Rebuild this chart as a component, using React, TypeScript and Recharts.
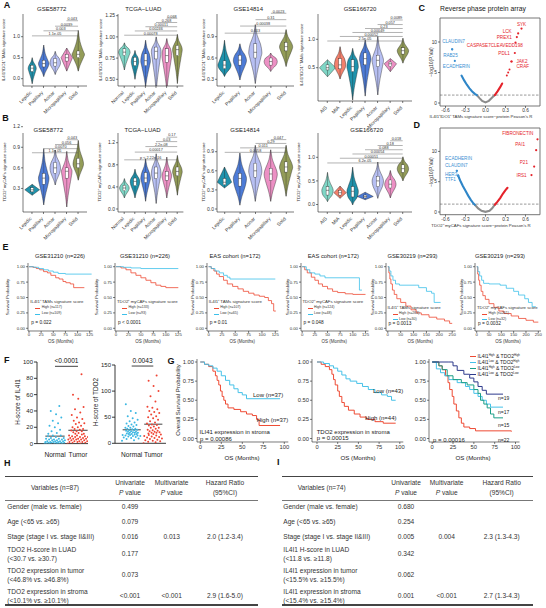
// @ts-nocheck
import React from 'react'
import { ComposedChart, Bar, Line, Scatter, XAxis, YAxis, ReferenceLine } from 'recharts'

const FONT = '"Liberation Sans", Arial, Helvetica, sans-serif'
const M0 = { top: 0, right: 0, bottom: 0, left: 0 }
const AX = { stroke: '#222', strokeWidth: 0.6 }

// ---------- violin panels (A, B) ----------
const a1Cats = ['Lepidic', 'Papillary', 'Acinar', 'Micropapillary', 'Solid']
const a1Stats = [[-0.12, 0.17, 0.25, 0.32, 0.5], [0.05, 0.28, 0.36, 0.44, 0.8], [0.1, 0.3, 0.38, 0.48, 0.65], [0.18, 0.42, 0.5, 0.58, 0.73], [0.18, 0.5, 0.58, 0.66, 1.15]]
const a1P = ['1.1e-05', '0.003', '0.0039', '0.043']
const a1PY = [1.02, 1.14, 1.25, 1.38]

const a2Cats = ['Normal', 'Lepidic', 'Papillary', 'Acinar', 'Micropapillary', 'Solid']
const a2Stats = [[0.61, 0.78, 0.82, 0.86, 0.93], [0.5, 0.66, 0.71, 0.76, 0.84], [0.41, 0.66, 0.72, 0.8, 0.96], [0.35, 0.74, 0.83, 0.88, 1.0], [0.36, 0.7, 0.78, 0.86, 0.98], [0.45, 0.78, 0.85, 0.9, 1.03]]
const a2P = ['0.00078', '0.00246', '0.00011', '0.268', '0.068']
const a2PY = [1.02, 1.07, 1.12, 1.17, 1.22]

const a3Cats = ['Lepidic', 'Papillary', 'Acinar', 'Micropapillary', 'Solid']
const a3Stats = [[0.34, 0.45, 0.5, 0.56, 0.85], [0.29, 0.5, 0.57, 0.64, 0.8], [0.24, 0.6, 0.68, 0.8, 1.07], [0.41, 0.5, 0.55, 0.6, 0.67], [0.48, 0.7, 0.76, 0.82, 1.0]]
const a3P = ['0.013', '0.00038', '0.31', '0.0023']
const a3PY = [0.95, 1.05, 1.14, 1.23]

const a4Cats = ['AIS', 'MIA', 'Lepidic', 'Papillary', 'Acinar', 'Micropapillary', 'Solid']
const a4Stats = [[0.34, 0.46, 0.5, 0.55, 0.64], [0.3, 0.48, 0.55, 0.66, 0.87], [-0.07, 0.43, 0.52, 0.64, 0.84], [0.0, 0.55, 0.66, 0.76, 0.99], [0.02, 0.52, 0.63, 0.72, 1.05], [0.43, 0.52, 0.57, 0.6, 0.66], [0.58, 0.74, 0.8, 0.85, 1.02]]
const a4P = ['2.5e-05', '0.00052', '0.00049', '0.23', '0.057', '0.0089']
const a4PY = [0.97, 1.05, 1.12, 1.19, 1.26, 1.34]

const b1Stats = [[0.2, 0.25, 0.28, 0.31, 0.36], [0.06, 0.36, 0.45, 0.52, 0.88], [0.35, 0.52, 0.6, 0.68, 0.86], [0.03, 0.45, 0.55, 0.6, 0.84], [0.42, 0.6, 0.66, 0.74, 1.0]]
const b1P = ['1.1e-05', '0.0070', '0.056', '0.043']
const b1PY = [0.82, 0.88, 0.94, 1.01]

const b2Stats = [[0.2, 0.33, 0.38, 0.43, 0.55], [0.2, 0.42, 0.5, 0.56, 0.72], [0.14, 0.48, 0.56, 0.66, 0.91], [0.1, 0.55, 0.65, 0.76, 1.0], [0.2, 0.52, 0.6, 0.68, 0.94], [0.25, 0.6, 0.68, 0.76, 0.97]]
const b2P = ['p < 2.22e-16', '0.00017', '2.2e-08', '0.03', '0.17']
const b2PY = [0.89, 1.03, 1.13, 1.22, 1.3]

const b3Stats = [[0.33, 0.38, 0.42, 0.48, 0.66], [0.06, 0.36, 0.48, 0.56, 0.88], [0.12, 0.5, 0.6, 0.72, 1.0], [0.12, 0.45, 0.55, 0.64, 0.93], [0.2, 0.58, 0.66, 0.74, 1.0]]
const b3P = ['0.0058', '0.011', '0.29', '0.047']
const b3PY = [0.89, 0.96, 1.03, 1.09]

const b4Stats = [[0.06, 0.2, 0.3, 0.38, 0.68], [0.13, 0.2, 0.25, 0.3, 0.39], [-0.01, 0.16, 0.28, 0.38, 0.79], [0.1, 0.14, 0.17, 0.2, 0.26], [0.13, 0.38, 0.5, 0.6, 0.9], [0.14, 0.35, 0.43, 0.52, 0.72], [0.5, 0.68, 0.76, 0.84, 1.01]]
const b4P = ['6.2e-05', '0.00051', '0.00054', '0.088', '0.18', '0.018']
const b4PY = [0.88, 0.98, 1.07, 1.16, 1.25, 1.35]

const CAT_COL = { Normal: '#7fd6c6', AIS: '#7fd6c6', MIA: '#f2806c', Lepidic: '#1f92ac', Papillary: '#4d7bd6', Acinar: '#b7bff2', Micropapillary: '#ec90c4', Solid: '#939c58' }
const KW = { v: 0.44, n: 0.34, W: 0.52, d: 0.48, w: 0.62 }

// ---------- volcano (C, D) ----------
const cBlueLine = [[-0.36, 4.5], [-0.32, 3.7], [-0.28, 3.0], [-0.24, 2.4], [-0.2, 1.9], [-0.16, 1.5], [-0.13, 1.3]]
const cGreyLine = [[-0.13, 1.3], [-0.09, 0.8], [-0.05, 0.35], [0, 0.1], [0.05, 0.35], [0.1, 0.9], [0.14, 1.3]]
const cRedLine = [[0.14, 1.3], [0.18, 1.9], [0.22, 2.6], [0.25, 3.2]]
const cRedDots = [[0.36, 5.5], [0.34, 5.0], [0.32, 4.5]]
const cNames = ['CLAUDIN7', 'RAB25', 'ECADHERIN', 'SYK', 'LCK', 'PREX1', 'CASPASE7CLEAVEDD198', 'PDL1', 'JAK2', 'CRAF']
const cX = [-0.5, -0.5, -0.46, 0.54, 0.49, 0.47, 0.45, 0.44, 0.39, 0.39]
const cY = [8.8, 8.8, 6.9, 12.2, 11.4, 10.8, 9.9, 8.2, 6.8, 6.8]
const cLab = [[-10, -7.6, 'start'], [-9, 5.7, 'start'], [-12, 5, 'start'], [0, -4.5, 'middle'], [-6.5, -1.6, 'end'], [-5, 0, 'end'], [7.3, 3, 'end'], [-5, 0, 'end'], [5, -0.3, 'start'], [5, 5, 'start']]

const dBlueLine = [[-0.41, 6.0], [-0.38, 5.2], [-0.34, 4.3], [-0.3, 3.5], [-0.26, 2.7], [-0.22, 2.0], [-0.18, 1.4], [-0.16, 1.2]]
const dGreyLine = [[-0.16, 1.2], [-0.11, 0.6], [-0.06, 0.2], [0, 0.02], [0.06, 0.2], [0.1, 0.6], [0.14, 1.2]]
const dRedLine = [[0.14, 1.2], [0.18, 1.7], [0.22, 2.3], [0.26, 3.0], [0.3, 3.6], [0.33, 4.0]]
const dNames = ['ECADHERIN', 'CLAUDIN7', 'HER3', 'TTF1', 'FIBRONECTIN', 'PAI1', 'P21', 'IRS1']
const dX = [-0.43, -0.43, -0.41, -0.41, 0.78, 0.76, 0.73, 0.69]
const dY = [6.8, 6.8, 6.0, 6.0, 12.0, 10.2, 7.5, 6.1]
const dLab = [[-11.8, -12.4, 'start'], [-11.8, -5, 'start'], [-13.2, -0.9, 'start'], [-13.2, 4.1, 'start'], [-4.2, -6.3, 'end'], [-11.2, -5.5, 'end'], [-6.2, -4.5, 'end'], [-4.8, 0.7, 'end']]

// ---------- Kaplan-Meier (E) ----------
const e1High = [[0, 1], [8, 0.99], [15, 0.97], [22, 0.95], [30, 0.92], [38, 0.9], [45, 0.86], [55, 0.82], [62, 0.8], [70, 0.76], [76, 0.74], [85, 0.72], [92, 0.66], [114, 0.66]]
const e1Low = [[0, 1], [10, 0.99], [20, 0.97], [30, 0.95], [40, 0.93], [50, 0.91], [60, 0.89], [75, 0.88], [129, 0.88]]
const e2High = [[0, 1], [10, 0.98], [20, 0.95], [30, 0.9], [40, 0.86], [50, 0.82], [60, 0.78], [70, 0.74], [80, 0.7], [90, 0.68], [100, 0.66], [125, 0.66]]
const e2Low = [[0, 1], [15, 0.99], [30, 0.98], [50, 0.97], [125, 0.97]]
const e3High = [[0, 1], [5, 0.97], [10, 0.93], [15, 0.88], [20, 0.84], [28, 0.78], [35, 0.72], [45, 0.68], [55, 0.64], [65, 0.6], [75, 0.57], [85, 0.54], [95, 0.52], [105, 0.5], [112, 0.45], [118, 0.4], [122, 0.28], [126, 0.28]]
const e3Low = [[0, 1], [5, 0.97], [12, 0.93], [20, 0.9], [28, 0.86], [35, 0.83], [40, 0.8], [125, 0.8]]
const e4High = [[0, 1], [5, 0.95], [10, 0.9], [18, 0.83], [25, 0.78], [32, 0.72], [40, 0.68], [50, 0.64], [60, 0.6], [70, 0.58], [85, 0.56], [100, 0.55], [125, 0.55]]
const e4Low = [[0, 1], [8, 0.95], [15, 0.9], [25, 0.88], [35, 0.85], [45, 0.82], [110, 0.82], [113, 0.62], [118, 0.62]]
const e5High = [[0, 1], [4, 0.9], [8, 0.8], [12, 0.72], [18, 0.62], [25, 0.55], [35, 0.48], [50, 0.42], [70, 0.36], [90, 0.3], [110, 0.25], [130, 0.22], [160, 0.18], [190, 0.15], [220, 0.12], [240, 0.08], [250, 0.08]]
const e5Low = [[0, 1], [5, 0.93], [12, 0.85], [20, 0.78], [30, 0.72], [45, 0.7], [110, 0.7], [120, 0.66], [150, 0.6], [170, 0.57], [180, 0.42], [205, 0.42]]
const e6High = [[0, 1], [4, 0.88], [8, 0.78], [12, 0.7], [18, 0.6], [25, 0.53], [35, 0.47], [50, 0.4], [70, 0.34], [90, 0.28], [110, 0.24], [140, 0.2], [170, 0.16], [200, 0.13], [230, 0.1], [250, 0.1]]
const e6Low = [[0, 1], [5, 0.92], [12, 0.85], [20, 0.78], [28, 0.73], [50, 0.72], [95, 0.7], [120, 0.65], [150, 0.6], [170, 0.54], [195, 0.48], [210, 0.42], [225, 0.35], [240, 0.35]]
const eTitles = ['GSE31210 (n=226)', 'GSE31210 (n=226)', 'EAS cohort (n=172)', 'EAS cohort (n=172)', 'GSE30219 (n=293)', 'GSE30219 (n=293)']
const eHighN = ['High (n=117)', 'High (n=133)', 'High (n=107)', 'High (n=124)', 'High (n=263)', 'High (n=261)']
const eLowN = ['Low (n=109)', 'Low (n=93)', 'Low (n=65)', 'Low (n=48)', 'Low (n=30)', 'Low (n=32)']
const eP = ['p = 0.022', 'p < 0.0001', 'p = 0.01', 'p = 0.048', 'p = 0.0013', 'p = 0.0032']
const T125 = [0, 25, 50, 75, 100, 125]
const T250 = [0, 50, 100, 150, 200, 250]

// ---------- H-score dots (F) ----------
const fIl4Normal = [0, 0, 0, 0, 0, 0, 0, 1, 1, 1, 1, 1, 2, 2, 2, 2, 3, 3, 3, 3, 4, 4, 4, 5, 5, 5, 6, 6, 7, 7, 8, 9, 10, 10, 12, 13, 15, 17, 20, 22, 25, 28, 32, 36, 40, 46]
const fIl4Tumor = [0, 0, 1, 1, 2, 2, 2, 3, 3, 3, 4, 4, 5, 5, 5, 6, 6, 6, 7, 7, 8, 8, 8, 9, 9, 10, 10, 11, 12, 12, 13, 14, 15, 15, 16, 17, 18, 18, 20, 20, 22, 24, 25, 26, 28, 30, 32, 35, 38, 42, 45, 55, 60, 85]
const fTdoNormal = [5, 6, 8, 9, 10, 11, 12, 13, 14, 14, 15, 15, 16, 16, 17, 18, 18, 18, 19, 20, 20, 20, 21, 22, 22, 23, 24, 25, 25, 26, 27, 28, 28, 30, 30, 32, 33, 35, 36, 38, 40, 42, 45, 48, 52, 58, 62, 75]
const fTdoTumor = [0, 2, 3, 4, 5, 6, 7, 8, 9, 10, 11, 12, 13, 14, 15, 16, 17, 18, 19, 20, 20, 21, 22, 23, 24, 25, 26, 28, 30, 30, 32, 34, 35, 36, 38, 40, 42, 45, 48, 50, 52, 55, 58, 60, 62, 65, 68, 70, 80, 90, 100, 110, 120, 130]

// ---------- Kaplan-Meier (G) ----------
const g1High = [[0, 1], [5, 0.97], [10, 0.94], [15, 0.88], [18, 0.82], [20, 0.76], [22, 0.7], [24, 0.62], [26, 0.55], [28, 0.5], [30, 0.45], [33, 0.4], [40, 0.38], [48, 0.35], [55, 0.32], [62, 0.3], [67, 0.25], [70, 0.17], [95, 0.17]]
const g1Low = [[0, 1], [5, 0.97], [10, 0.95], [15, 0.92], [20, 0.88], [25, 0.82], [30, 0.76], [35, 0.7], [40, 0.65], [45, 0.6], [50, 0.57], [55, 0.52], [95, 0.52]]
const g2High = [[0, 1], [5, 0.97], [10, 0.94], [15, 0.9], [18, 0.84], [20, 0.77], [22, 0.7], [25, 0.62], [27, 0.55], [30, 0.47], [33, 0.42], [38, 0.37], [45, 0.32], [52, 0.28], [60, 0.25], [70, 0.22], [80, 0.2], [95, 0.2]]
const g2Low = [[0, 1], [8, 0.98], [15, 0.95], [20, 0.92], [25, 0.88], [30, 0.83], [35, 0.78], [40, 0.75], [48, 0.72], [55, 0.68], [62, 0.64], [70, 0.6], [78, 0.57], [85, 0.55], [90, 0.5], [95, 0.5]]
const g3HH = [[0, 1], [8, 0.95], [12, 0.9], [16, 0.82], [19, 0.73], [21, 0.64], [24, 0.55], [26, 0.45], [29, 0.36], [32, 0.27], [35, 0.2], [38, 0.15], [45, 0.13], [52, 0.1], [95, 0.09]]
const g3LH = [[0, 1], [5, 0.91], [10, 0.86], [15, 0.82], [20, 0.77], [30, 0.73], [40, 0.68], [45, 0.64], [50, 0.59], [55, 0.55], [60, 0.5], [65, 0.45], [70, 0.41], [85, 0.41]]
const g3HL = [[0, 1], [8, 0.95], [12, 0.9], [18, 0.82], [25, 0.77], [35, 0.73], [42, 0.7], [50, 0.64], [55, 0.59], [58, 0.5], [62, 0.45], [66, 0.4], [70, 0.32], [74, 0.27], [85, 0.27]]
const g3LL = [[0, 1], [20, 1], [25, 0.95], [30, 0.89], [38, 0.84], [45, 0.79], [50, 0.74], [55, 0.68], [60, 0.63], [65, 0.58], [85, 0.58]]
const G4 = [0, 25, 50, 75, 100]

// ---------- tables (H, I) ----------
const hVars = [['Gender (male vs. female)'], ['Age (<65 vs. ≥65)'], ['Stage (stage I vs. stage II&III)'], ['TDO2 H-score in LUAD', '(<30.7 vs. ≥30.7)'], ['TDO2 expression in tumor', '(<46.8% vs. ≥46.8%)'], ['TDO2 expression in stroma', '(<10.1% vs. ≥10.1%)']]
const hUni = ['0.499', '0.079', '0.016', '0.177', '0.073', '<0.001']
const hMulti = ['', '', '0.013', '', '', '<0.001']
const hHR = ['', '', '2.0 (1.2-3.4)', '', '', '2.9 (1.6-5.0)']
const iVars = [['Gender (male vs. female)'], ['Age (<65 vs. ≥65)'], ['Stage (stage I vs. stage II&III)'], ['IL4I1   H-score in LUAD', '(<11.8 vs. ≥11.8)'], ['IL4I1 expression  in tumor', '(<15.5% vs. ≥15.5%)'], ['IL4I1  expression in stroma', '(<15.4% vs. ≥15.4%)']]
const iUni = ['0.680', '0.254', '0.005', '0.342', '0.062', '0.001']
const iMulti = ['', '', '0.004', '', '', '<0.001']
const iHR = ['', '', '2.3 (1.3-4.3)', '', '', '2.7 (1.3-4.3)']

const RED = '#ee4a33'
const CYAN = '#3cc0ea'
const TAM = 'IL4I1⁺IDO1⁺ TAMs signature score'
const CAF = 'TDO2⁺ myCAFs signature score'

function lin(c, p) {
  const [[v1, p1], [v2, p2]] = c
  return v1 + ((p - p1) * (v2 - v1)) / (p2 - p1)
}

function T({ x, y, s = 6, a = 'middle', r = 0, c = '#222', w = 400, children }) {
  const tx = a === 'middle' ? '-50%' : a === 'end' ? '-100%' : '0%'
  return (
    <div style={{ position: 'absolute', left: x, top: y, transform: `translate(${tx},-50%) rotate(${r}deg)`, fontSize: s, color: c, fontWeight: w, whiteSpace: 'nowrap', lineHeight: 1 }}>
      {children}
    </div>
  )
}

function Seg({ x1, x2, y, c, h = 0.8 }) {
  return <div style={{ position: 'absolute', left: x1, top: y - h / 2, width: x2 - x1, height: h, background: c }} />
}

function cr(p, move) {
  let d = move ? `M${p[0][0]},${p[0][1]}` : `L${p[0][0]},${p[0][1]}`
  for (let i = 0; i < p.length - 1; i++) {
    const a = p[i - 1] || p[i], b = p[i], c = p[i + 1], e = p[i + 2] || c
    d += `C${b[0] + (c[0] - a[0]) / 6},${b[1] + (c[1] - a[1]) / 6} ${c[0] - (e[0] - b[0]) / 6},${c[1] - (e[1] - b[1]) / 6} ${c[0]},${c[1]}`
  }
  return d
}

function ViolinShape(props) {
  const { x, y, width, height, row } = props
  if (!row || !isFinite(y)) return null
  const [mn, q1, md, q3, mx] = row.s
  const top = Math.min(y, y + height), h = Math.abs(height)
  const py = (v) => top + (h * (mx - v)) / (mx - mn)
  const cx = x + width / 2
  const hw = width * KW[row.k]
  let d
  if (row.k === 'd' || row.k === 'w') {
    d = `M${cx},${py(mx)} L${cx + hw},${py(md)} L${cx},${py(mn)} L${cx - hw},${py(md)} Z`
  } else {
    const prof = [[mx, 0], [q3 + (mx - q3) * 0.45, 0.28], [q3, 0.78], [md, 1], [q1, 0.82], [mn + (q1 - mn) * 0.45, 0.3], [mn, 0]]
    const R = prof.map(([v, f]) => [cx + f * hw, py(v)])
    const L = prof.slice().reverse().map(([v, f]) => [cx - f * hw, py(v)])
    d = cr(R, true) + cr(L, false) + 'Z'
  }
  const bw = Math.min(1.4, hw * 0.35)
  return (
    <g>
      <path d={d} fill={row.col} stroke="#222" strokeWidth={0.4} />
      <line x1={cx} x2={cx} y1={py(mx)} y2={py(mn)} stroke="#222" strokeWidth={0.35} />
      <rect x={cx - bw} y={py(q3)} width={bw * 2} height={Math.max(0.5, py(q1) - py(q3))} fill="#fff" stroke="#222" strokeWidth={0.35} />
      <line x1={cx - bw} x2={cx + bw} y1={py(md)} y2={py(md)} stroke="#222" strokeWidth={0.5} />
    </g>
  )
}

const CatTick = (p) => (
  <text x={p.x} y={p.y + 3} transform={`rotate(-45 ${p.x} ${p.y + 3})`} textAnchor="end" fontSize={4.8} fill="#333">
    {p.payload.value}
  </text>
)

function ViolinPanel({ p }) {
  const { x0, x1, pad, y0, y1, cal, cats, stats, kinds, ticks, dec, pv, py } = p
  const wy = 18, hx = 34
  const dom = [lin(cal, y1), lin(cal, y0)]
  const rows = cats.map((c, i) => ({ cat: c, r: [stats[i][0], stats[i][4]], s: stats[i], k: kinds[i], col: CAT_COL[c] }))
  const last = cats[cats.length - 1]
  return (
    <div style={{ position: 'absolute', left: x0 - wy, top: y0 }}>
      <ComposedChart width={x1 - x0 + wy} height={y1 - y0 + hx} data={rows} margin={M0} barCategoryGap={0}>
        <XAxis dataKey="cat" height={hx} interval={0} padding={{ left: pad, right: pad }} tickSize={2} axisLine={AX} tickLine={AX} tick={CatTick} />
        <YAxis type="number" width={wy} domain={dom} allowDataOverflow ticks={ticks} interval={0} tickSize={2} tickMargin={1} axisLine={AX} tickLine={AX} tick={{ fontSize: 5, fill: '#333' }} tickFormatter={(v) => v.toFixed(dec)} />
        <Bar dataKey="r" isAnimationActive={false} shape={(sp) => <ViolinShape {...sp} row={rows[sp.index]} />} />
        {pv.map((t, i) => (
          <ReferenceLine key={i} segment={[{ x: cats[i], y: py[i] }, { x: last, y: py[i] }]} stroke="#555" strokeWidth={0.45} ifOverflow="visible" label={{ value: t, position: 'top', fontSize: 3.8, fill: '#333', offset: 0.7 }} />
        ))}
      </ComposedChart>
    </div>
  )
}

const violinPlots = [
  { x0: 22.7, x1: 86.7, pad: 3.2, y0: 14, y1: 86, cal: [[0, 78.7], [1, 36.7]], cats: a1Cats, stats: a1Stats, kinds: 'nvvdW', ticks: [0, 0.5, 1], dec: 1, pv: a1P, py: a1PY, title: 'GSE58772', tx: 51.7, ty: 9, ylab: TAM, lx: 4, ly: 50 },
  { x0: 118.3, x1: 183.7, pad: 0.9, y0: 14, y1: 86, cal: [[0.5, 79.3], [1.25, 15.7]], cats: a2Cats, stats: a2Stats, kinds: 'Wnvvvv', ticks: [0.5, 0.75, 1, 1.25], dec: 2, pv: a2P, py: a2PY, title: 'TCGA−LUAD', tx: 143.3, ty: 9, ylab: TAM, lx: 101, ly: 50 },
  { x0: 216.7, x1: 293.7, pad: 0, y0: 14, y1: 86, cal: [[0.3, 79.3], [0.9, 36.7]], cats: a3Cats, stats: a3Stats, kinds: 'vvvvv', ticks: [0.3, 0.6, 0.9], dec: 1, pv: a3P, py: a3PY, title: 'GSE14814', tx: 248.3, ty: 9, ylab: TAM, lx: 204, ly: 50 },
  { x0: 318, x1: 412, pad: 3, y0: 14, y1: 101, cal: [[0.5, 67.7], [1, 39.3]], cats: a4Cats, stats: a4Stats, kinds: 'wvvvvdv', ticks: [0.5, 1], dec: 1, pv: a4P, py: a4PY, title: 'GSE166720', tx: 360, ty: 9, ylab: TAM, lx: 302, ly: 55 },
  { x0: 22.7, x1: 86.7, pad: 3.2, y0: 133, y1: 212, cal: [[0, 209], [1.2, 126.7]], cats: a1Cats, stats: b1Stats, kinds: 'wvvvv', ticks: [0.3, 0.6, 0.9, 1.2], dec: 1, pv: b1P, py: b1PY, title: 'GSE58772', tx: 48.3, ty: 129.5, ylab: CAF, lx: 5, ly: 172 },
  { x0: 118.3, x1: 183.7, pad: 0.9, y0: 133, y1: 212, cal: [[0, 209], [1.2, 142.7]], cats: a2Cats, stats: b2Stats, kinds: 'vvvvvv', ticks: [0, 0.4, 0.8, 1.2], dec: 1, pv: b2P, py: b2PY, title: 'TCGA−LUAD', tx: 142.5, ty: 130, ylab: CAF, lx: 100, ly: 172 },
  { x0: 216.7, x1: 293.7, pad: 0, y0: 133, y1: 212, cal: [[0, 209], [0.9, 151.7]], cats: a3Cats, stats: b3Stats, kinds: 'dvvvv', ticks: [0, 0.3, 0.6, 0.9], dec: 1, pv: b3P, py: b3PY, title: 'GSE14814', tx: 245, ty: 130, ylab: CAF, lx: 204, ly: 172 },
  { x0: 318, x1: 412, pad: 3, y0: 133, y1: 212, cal: [[0, 204.5], [1, 157.3]], cats: a4Cats, stats: b4Stats, kinds: 'vdvwvvv', ticks: [0, 0.5, 1], dec: 1, pv: b4P, py: b4PY, title: 'GSE166720', tx: 366.7, ty: 130, ylab: CAF, lx: 299, ly: 172 },
]

const blank = () => <g />
const FRAME = { stroke: '#666', strokeWidth: 0.9, ifOverflow: 'visible' }

function Volcano({ y0, y1, cal, blue, grey, red, extra, names, xs, ys, lab }) {
  const x0 = 440, x1 = 540, wy = 12, hx = 10
  const xc = [[-0.6, 445.5], [0.6, 525.5]]
  const xd = [lin(xc, x0), lin(xc, x1)], yd = [lin(cal, y1), lin(cal, y0)]
  const pts = names.map((n, i) => ({ x: xs[i], y: ys[i], n, dx: lab[i][0], dy: lab[i][1], a: lab[i][2], c: xs[i] < 0 ? '#3b8fd2' : '#e5232b' }))
  const toXY = (arr) => arr.map(([x, y]) => ({ x, y }))
  const trail = (arr, col) => (
    <Scatter data={toXY(arr)} dataKey="y" isAnimationActive={false} shape={blank} line={{ stroke: col, strokeWidth: 2.1, strokeLinecap: 'round' }} lineType="joint" />
  )
  return (
    <div style={{ position: 'absolute', left: x0 - wy, top: y0 }}>
      <ComposedChart width={x1 - x0 + wy} height={y1 - y0 + hx} margin={M0}>
        <XAxis type="number" dataKey="x" domain={xd} allowDataOverflow ticks={[-0.6, -0.3, 0, 0.3, 0.6]} interval={0} height={hx} axisLine={false} tickSize={2} tickMargin={1} tickLine={AX} tick={{ fontSize: 4.8, fill: '#333' }} tickFormatter={(v) => v.toFixed(1)} />
        <YAxis type="number" dataKey="y" domain={yd} allowDataOverflow ticks={[0, 5, 10]} interval={0} width={wy} axisLine={false} tickSize={2} tickMargin={1} tickLine={AX} tick={{ fontSize: 4.8, fill: '#333' }} />
        <ReferenceLine x={xd[0]} {...FRAME} />
        <ReferenceLine x={xd[1]} {...FRAME} />
        <ReferenceLine y={yd[0]} {...FRAME} />
        <ReferenceLine y={yd[1]} {...FRAME} />
        <ReferenceLine y={1.3} stroke="#555" strokeDasharray="2.5 1.5" strokeWidth={0.6} />
        {trail(grey, '#8c8c8c')}
        {trail(blue, '#2f86c8')}
        {trail(red, '#e5232b')}
        {extra && <Scatter data={toXY(extra)} dataKey="y" isAnimationActive={false} shape={(s) => <circle cx={s.cx} cy={s.cy} r={1} fill="#e5232b" />} />}
        <Scatter data={pts} dataKey="y" isAnimationActive={false} shape={(s) => (
          <g>
            <circle cx={s.cx} cy={s.cy} r={1.1} fill={s.payload.c} />
            <text x={s.cx + s.payload.dx} y={s.cy + s.payload.dy} dy="0.35em" textAnchor={s.payload.a} fontSize={4.6} fill={s.payload.c}>{s.payload.n}</text>
          </g>
        )} />
      </ComposedChart>
    </div>
  )
}

function KMPanel({ x0, x1, y0, y1, xc, yc, xt, curves, cols, fs, lw, tm = 1 }) {
  const wy = 16, hx = 14
  const xd = [lin(xc, x0), lin(xc, x1)], yd = [lin(yc, y1), lin(yc, y0)]
  return (
    <div style={{ position: 'absolute', left: x0 - wy, top: y0 }}>
      <ComposedChart width={x1 - x0 + wy} height={y1 - y0 + hx} margin={M0}>
        <XAxis type="number" dataKey="t" domain={xd} allowDataOverflow ticks={xt} interval={0} height={hx} tickSize={2} tickMargin={tm} axisLine={AX} tickLine={AX} tick={{ fontSize: fs, fill: '#333' }} />
        <YAxis type="number" domain={yd} allowDataOverflow ticks={[0, 0.25, 0.5, 0.75, 1]} interval={0} width={wy} tickSize={2} tickMargin={1} axisLine={AX} tickLine={AX} tick={{ fontSize: fs, fill: '#333' }} tickFormatter={(v) => v.toFixed(2)} />
        {curves.map((c, i) => (
          <Line key={i} data={c.map(([t, s]) => ({ t, s }))} dataKey="s" type="stepAfter" stroke={cols[i]} strokeWidth={lw} dot={false} isAnimationActive={false} />
        ))}
      </ComposedChart>
    </div>
  )
}

const eSpecs = [
  { x0: 28.3, x1: 93, xc: [[0, 29.3], [125, 90]], xt: T125, curves: [e1High, e1Low], tx: 60, lx: 8, leg: 'IL4I1⁺ TAMs signature score' },
  { x0: 115, x1: 181, xc: [[0, 116], [125, 178.3]], xt: T125, curves: [e2High, e2Low], tx: 145, lx: 97, leg: 'TDO2⁺ myCAFs signature score' },
  { x0: 206.7, x1: 278, xc: [[0, 208.3], [125, 275]], xt: T125, curves: [e3High, e3Low], tx: 235, lx: 193, leg: 'IL4I1⁺ TAMs signature score' },
  { x0: 300.5, x1: 368, xc: [[0, 301.7], [125, 365]], xt: T125, curves: [e4High, e4Low], tx: 333.3, lx: 288, leg: 'TDO2⁺ myCAFs signature score' },
  { x0: 385.5, x1: 455, xc: [[0, 387.3], [250, 451.7]], xt: T250, curves: [e5High, e5Low], tx: 412.5, lx: 373, leg: 'IL4I1⁺ TAMs signature score' },
  { x0: 475, x1: 541, xc: [[0, 476.7], [250, 538.3]], xt: T250, curves: [e6High, e6Low], tx: 500, lx: 462, leg: 'TDO2⁺ myCAFs signature score' },
]
const E_YC = [[0, 328.3], [1, 266.7]]
const G_YC = [[0, 438.5], [1, 362]]

function DotPanel({ x0, x1, y0, y1, xc, ymax, yt, a, b, pTxt, pY }) {
  const wy = 18, hx = 14
  const xd = [lin(xc, x0), lin(xc, x1)]
  const jit = (vals, g) => vals.map((v, i) => ({ x: g + (((i * 0.618034) % 1) - 0.5) * (v < ymax * 0.12 ? 0.9 : 0.6), y: v }))
  const mean = (v) => v.reduce((s, q) => s + q, 0) / v.length
  const dot = (c) => (s) => <circle cx={s.cx} cy={s.cy} r={1} fill={c} />
  return (
    <div style={{ position: 'absolute', left: x0 - wy, top: y0 }}>
      <ComposedChart width={x1 - x0 + wy} height={y1 - y0 + hx} margin={M0}>
        <XAxis type="number" dataKey="x" domain={xd} allowDataOverflow ticks={[0, 1]} interval={0} height={hx} tickLine={false} tickMargin={3} axisLine={{ stroke: '#222', strokeWidth: 0.9 }} tick={{ fontSize: 6.6, fill: '#222' }} tickFormatter={(v) => (v === 0 ? 'Normal' : 'Tumor')} />
        <YAxis type="number" dataKey="y" domain={[0, ymax]} allowDataOverflow ticks={yt} interval={0} width={wy} tickSize={3} tickMargin={1} axisLine={{ stroke: '#222', strokeWidth: 0.9 }} tickLine={{ stroke: '#222', strokeWidth: 0.9 }} tick={{ fontSize: 6, fill: '#222' }} />
        <Scatter data={jit(a, 0)} dataKey="y" isAnimationActive={false} shape={dot('#3bb7e2')} />
        <Scatter data={jit(b, 1)} dataKey="y" isAnimationActive={false} shape={dot('#ef4434')} />
        <ReferenceLine segment={[{ x: -0.42, y: mean(a) }, { x: 0.42, y: mean(a) }]} stroke="#111" strokeWidth={0.8} />
        <ReferenceLine segment={[{ x: 0.58, y: mean(b) }, { x: 1.42, y: mean(b) }]} stroke="#111" strokeWidth={0.8} />
        <ReferenceLine segment={[{ x: 0, y: pY }, { x: 1, y: pY }]} stroke="#111" strokeWidth={0.8} ifOverflow="visible" label={{ value: pTxt, position: 'top', fontSize: 6.6, fill: '#111', offset: 3 }} />
      </ComposedChart>
    </div>
  )
}

function Table({ x0, x1, vx, vcx, cols, title, vars, uni, multi, hr }) {
  const rowY = [506.7, 521.7, 536.7, 554.3, 575, 596]
  const fs = 6.6
  const c = '#333'
  return (
    <>
      <Seg x1={x0} x2={x1} y={476.7} c="#444" h={1.2} />
      <Seg x1={x0} x2={x1} y={500} c="#777" h={0.5} />
      <Seg x1={x0} x2={x1} y={605} c="#444" h={1.2} />
      <T x={vcx} y={488} s={fs} c={c}>{title}</T>
      <T x={cols[0]} y={483.3} s={fs} c={c}>Univariate</T>
      <T x={cols[0]} y={493.3} s={fs} c={c}><i>P</i> value</T>
      <T x={cols[1]} y={483.3} s={fs} c={c}>Multivariate</T>
      <T x={cols[1]} y={493.3} s={fs} c={c}><i>P</i> value</T>
      <T x={cols[2]} y={483.3} s={fs} c={c}>Hazard Ratio</T>
      <T x={cols[2]} y={493.3} s={fs} c={c}>(95%CI)</T>
      {vars.map((v, i) => (
        <React.Fragment key={i}>
          {v.length === 1 ? (
            <T x={vx} y={rowY[i]} s={fs} a="start" c={c}>{v[0]}</T>
          ) : (
            <>
              <T x={vx} y={rowY[i] - 4.5} s={fs} a="start" c={c}>{v[0]}</T>
              <T x={vx} y={rowY[i] + 4.8} s={fs} a="start" c={c}>{v[1]}</T>
            </>
          )}
          <T x={cols[0]} y={rowY[i]} s={fs} c={c}>{uni[i]}</T>
          <T x={cols[1]} y={rowY[i]} s={fs} c={c}>{multi[i]}</T>
          <T x={cols[2]} y={rowY[i]} s={fs} c={c}>{hr[i]}</T>
        </React.Fragment>
      ))}
    </>
  )
}

const Sup = ({ children }) => <sup style={{ fontSize: '58%', verticalAlign: '45%' }}>{children}</sup>

export default function App() {
  const gCols = [RED, '#45c1e8', '#1b9e86', '#2e3a8c']
  const gLeg = [['High', 'High'], ['Low', 'High'], ['High', 'Low'], ['Low', 'Low']]
  return (
    <div style={{ position: 'absolute', left: 0, top: 0, width: 546, height: 608, background: '#fff', fontFamily: FONT, overflow: 'hidden' }}>
      <style>{`svg.recharts-surface{overflow:visible}`}</style>

      {/* panel letters */}
      <T x={7} y={5} s={9} w={700} c="#111">A</T>
      <T x={5.5} y={118.3} s={9} w={700} c="#111">B</T>
      <T x={421.7} y={8.3} s={9} w={700} c="#111">C</T>
      <T x={416.7} y={125} s={9} w={700} c="#111">D</T>
      <T x={5.5} y={246.7} s={9} w={700} c="#111">E</T>
      <T x={6.7} y={360} s={9} w={700} c="#111">F</T>
      <T x={171} y={361} s={9} w={700} c="#111">G</T>
      <T x={7.3} y={463.3} s={9} w={700} c="#111">H</T>
      <T x={278.3} y={462.3} s={9} w={700} c="#111">I</T>

      {/* A / B violins */}
      {violinPlots.map((p, i) => (
        <React.Fragment key={i}>
          <ViolinPanel p={p} />
          <T x={p.tx} y={p.ty} s={6}>{p.title}</T>
          <T x={p.lx} y={p.ly} s={4.2} r={-90} c="#333">{p.ylab}</T>
        </React.Fragment>
      ))}

      {/* C / D */}
      <T x={483} y={9} s={6.8}>Reverse phase protein array</T>
      <Volcano y0={18} y1={106} cal={[[0, 103], [10, 42]]} blue={cBlueLine} grey={cGreyLine} red={cRedLine} extra={cRedDots} names={cNames} xs={cX} ys={cY} lab={cLab} />
      <T x={430.5} y={62} s={5} r={-90} c="#333">−log10(P.Val)</T>
      <T x={481} y={116.5} s={4.3} c="#333">IL4I1⁺IDO1⁺ TAMs signature score−protein Peason's R</T>
      <Volcano y0={128.3} y1={215} cal={[[0, 212.3], [10, 151.7]]} blue={dBlueLine} grey={dGreyLine} red={dRedLine} names={dNames} xs={dX} ys={dY} lab={dLab} />
      <T x={430.5} y={172} s={5} r={-90} c="#333">−log10(P.Val)</T>
      <T x={481} y={225.5} s={4.3} c="#333">TDO2⁺ myCAFs signature score−protein Peason's R</T>

      {/* E */}
      {eSpecs.map((k, i) => {
        const late = i >= 4
        const lt = late ? 307.5 : 301.7
        return (
          <React.Fragment key={i}>
            <KMPanel x0={k.x0} x1={k.x1} y0={263} y1={331} xc={k.xc} yc={E_YC} xt={k.xt} curves={k.curves} cols={[RED, CYAN]} fs={4.3} lw={0.8} tm={0.3} />
            <T x={k.tx} y={257} s={5.8}>{eTitles[i]}</T>
            <T x={k.lx} y={297} s={4.3} r={-90} c="#333">Survival Probability</T>
            <T x={(k.x0 + k.x1) / 2} y={341.5} s={4.5} c="#333">OS (Months)</T>
            <T x={k.x0 + 2} y={lt} s={4.3} a="start" c="#333">{k.leg}</T>
            <Seg x1={k.x0 + 7} x2={k.x0 + 12} y={lt + 6.6} c={RED} />
            <T x={k.x0 + 13.5} y={lt + 6.6} s={3.5} a="start" c="#333">{eHighN[i]}</T>
            <Seg x1={k.x0 + 7} x2={k.x0 + 12} y={lt + 12.3} c={CYAN} />
            <T x={k.x0 + 13.5} y={lt + 12.3} s={3.5} a="start" c="#333">{eLowN[i]}</T>
            <T x={k.x0 + 3} y={late ? 324 : 322.7} s={4.8} a="start" c="#222">{eP[i]}</T>
          </React.Fragment>
        )
      })}

      {/* F */}
      <DotPanel x0={37} x1={88} y0={361.7} y1={443.3} xc={[[0, 55], [1, 78]]} ymax={100} yt={[0, 20, 40, 60, 80, 100]} a={fIl4Normal} b={fIl4Tumor} pTxt="<0.0001" pY={94.7} />
      <T x={18} y={402} s={6.4} r={-90}>H-score of IL4I1</T>
      <DotPanel x0={115} x1={166} y0={365} y1={443.3} xc={[[0, 131.7], [1, 153.3]]} ymax={150} yt={[0, 50, 100, 150]} a={fTdoNormal} b={fTdoTumor} pTxt="0.0043" pY={148} />
      <T x={96} y={402} s={6.4} r={-90}>H-score of TDO2</T>

      {/* G */}
      <KMPanel x0={196.7} x1={288} y0={359} y1={442} xc={[[0, 200], [100, 284]]} yc={G_YC} xt={G4} curves={[g1High, g1Low]} cols={[RED, '#45c1e8']} fs={5.8} lw={1} />
      <KMPanel x0={311.7} x1={403} y0={359} y1={442} xc={[[0, 316.7], [100, 399.5]]} yc={G_YC} xt={G4} curves={[g2High, g2Low]} cols={[RED, '#45c1e8']} fs={5.8} lw={1} />
      <KMPanel x0={428.5} x1={519} y0={359} y1={442} xc={[[0, 431.7], [100, 515]]} yc={G_YC} xt={G4} curves={[g3HH, g3LH, g3HL, g3LL]} cols={gCols} fs={5.8} lw={1} />
      <T x={177.5} y={400} s={6} r={-90}>Overall Survival Probability</T>
      <T x={242} y={457.5} s={6.2}>OS (Months)</T>
      <T x={358} y={457.5} s={6.2}>OS (Months)</T>
      <T x={473} y={457.5} s={6.2}>OS (Months)</T>
      <T x={253} y={395} s={6} a="start">Low (n=37)</T>
      <T x={256.7} y={420} s={6} a="start">High (n=37)</T>
      <T x={199.5} y={432} s={6} a="start">ILI41 expression in stroma</T>
      <T x={200} y={438.6} s={6} a="start">p = 0.00086</T>
      <T x={373} y={391} s={6} a="start">Low (n=43)</T>
      <T x={365} y={417.7} s={6} a="start">High (n=44)</T>
      <T x={316.7} y={431.7} s={6} a="start">TDO2 expression in stroma</T>
      <T x={316.7} y={438.3} s={6} a="start">p = 0.00015</T>
      <T x={433} y={439.5} s={6} a="start">p = 0.00016</T>
      {['n=19', 'n=17', 'n=15', 'n=22'].map((t, i) => (
        <T key={t} x={498} y={[398.3, 411.7, 425, 439.5][i]} s={5} a="start">{t}</T>
      ))}
      {gLeg.map(([a, b], i) => (
        <React.Fragment key={i}>
          <Seg x1={470} x2={476} y={356 + i * 6} c={gCols[i]} h={1} />
          <T x={477.5} y={356 + i * 6} s={5} a="start">IL4I1<Sup>{a}</Sup> &amp; TDO2<Sup>{b}</Sup></T>
        </React.Fragment>
      ))}

      {/* H / I tables */}
      <Table x0={5} x1={258} vx={7.3} vcx={55} cols={[130, 171.7, 225]} title="Variables (n=87)" vars={hVars} uni={hUni} multi={hMulti} hr={hHR} />
      <Table x0={281.7} x1={533.3} vx={283.3} vcx={321.7} cols={[406, 446.7, 501.7]} title="Variables (n=74)" vars={iVars} uni={iUni} multi={iMulti} hr={iHR} />
    </div>
  )
}
